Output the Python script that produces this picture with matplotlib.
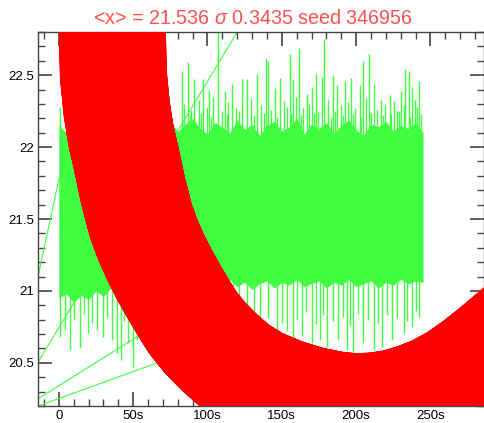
import numpy as np
import matplotlib
matplotlib.use("Agg")
import matplotlib.pyplot as plt
from matplotlib.path import Path
from matplotlib.patches import PathPatch
from matplotlib.ticker import MultipleLocator, FuncFormatter

plt.rcParams["font.family"] = ["Liberation Sans", "DejaVu Sans"]
plt.rcParams["mathtext.fontset"] = "custom"
plt.rcParams["mathtext.rm"] = "Liberation Sans"
plt.rcParams["mathtext.it"] = "Liberation Sans:italic"

GREEN = "#40ff40"

# dense noisy band (solid part), sampled every 5 s
band_t = np.arange(0, 250, 5)
band_hi = [22.15, 22.10, 22.18, 22.12, 22.20, 22.08, 22.16, 22.13, 22.19, 22.10,
           22.14, 22.17, 22.09, 22.15, 22.12, 22.18, 22.11, 22.16, 22.20, 22.13,
           22.09, 22.17, 22.14, 22.10, 22.19, 22.12, 22.16, 22.08, 22.15, 22.18,
           22.11, 22.14, 22.20, 22.09, 22.16, 22.13, 22.17, 22.10, 22.15, 22.19,
           22.12, 22.08, 22.16, 22.14, 22.18, 22.11, 22.15, 22.13, 22.17, 22.10]
band_lo = [20.95, 20.98, 20.92, 20.97, 20.94, 21.00, 20.96, 21.02, 20.98, 21.04,
           21.01, 21.06, 21.03, 21.07, 21.02, 21.05, 21.08, 21.04, 21.06, 21.03,
           21.07, 21.02, 21.05, 21.08, 21.03, 21.06, 21.01, 21.05, 21.07, 21.02,
           21.06, 21.04, 21.08, 21.03, 21.05, 21.07, 21.02, 21.06, 21.04, 21.08,
           21.03, 21.05, 21.07, 21.02, 21.06, 21.04, 21.08, 21.05, 21.07, 21.06]

# upward spikes (time, value)
up_t = [1.0, 82.6, 86.6, 91.1, 97.2, 101.0, 107.3, 111.8, 116.3, 123.0, 126.4,
        133.1, 139.4, 140.5, 145.5, 148.8, 155.6, 157.8, 161.6, 166.8, 170.2,
        172.9, 176.7, 178.2, 184.3, 187.0, 192.6, 196.6, 202.7, 204.9, 208.5,
        211.7, 216.6, 222.9, 230.0, 233.0, 235.7, 237.5, 242.6,
        84.5, 89.0, 94.0, 99.5, 104.0, 109.5, 114.0, 119.0, 129.5, 136.0,
        143.0, 151.5, 153.5, 159.5, 164.0, 168.5, 174.5, 181.0, 189.5, 194.5,
        199.5, 206.5, 214.0, 219.5, 225.5, 227.5, 232.0, 239.5, 241.0,
        88.0, 95.5, 102.5, 113.0, 121.0, 131.5, 138.0, 147.0, 156.5, 163.0,
        171.5, 183.0, 186.0, 191.0, 198.0, 203.5, 210.0, 218.0, 223.5, 229.0,
        236.5, 243.5]
up_v = [22.28, 22.53, 22.59, 22.47, 22.47, 22.40, 23.00, 22.39, 22.44, 22.47, 22.47,
        22.51, 22.62, 22.60, 22.41, 22.48, 22.65, 22.47, 22.69, 22.37, 22.42,
        22.51, 22.49, 22.75, 22.50, 22.43, 22.46, 22.48, 22.43, 22.60, 22.65,
        22.44, 22.33, 22.36, 22.39, 22.54, 22.53, 22.42, 22.46,
        22.30, 22.26, 22.33, 22.28, 22.35, 22.25, 22.31, 22.27, 22.34, 22.29,
        22.26, 22.32, 22.28, 22.35, 22.27, 22.30, 22.25, 22.33, 22.29, 22.31,
        22.27, 22.34, 22.26, 22.30, 22.32, 22.25, 22.29, 22.33, 22.28,
        22.22, 22.24, 22.21, 22.23, 22.25, 22.22, 22.24, 22.21, 22.23, 22.22,
        22.24, 22.21, 22.25, 22.22, 22.23, 22.21, 22.24, 22.22, 22.23, 22.25,
        22.21, 22.23]

# downward spikes (time, value)
dn_t = [1.1, 4.0, 7.4, 14.1, 19.7, 25.4, 29.8, 35.5, 38.9, 41.5, 46.7, 49.6, 52.7,
        117.4, 126.4, 135.4, 146.6, 153.8, 157.8, 163.4, 170.2, 175.8, 180.3,
        188.1, 193.7, 198.2, 204.9, 211.7, 217.3, 224.0, 231.9, 237.5, 242.0,
        10.5, 17.0, 22.5, 32.5, 44.0, 121.5, 131.0, 140.5, 150.0, 160.5, 166.5,
        173.0, 178.0, 184.5, 191.0, 196.0, 201.5, 208.0, 214.5, 220.5, 227.5,
        234.5, 240.0]
dn_v = [20.68, 20.73, 20.59, 20.60, 20.71, 20.73, 20.68, 20.66, 20.57, 20.52, 20.64,
        20.47, 20.66,
        20.99, 20.87, 20.78, 20.73, 20.72, 20.66, 20.69, 20.64, 20.66, 20.61,
        20.66, 20.59, 20.57, 20.64, 20.59, 20.61, 20.66, 20.71, 20.75, 20.82,
        20.80, 20.84, 20.78, 20.82, 20.79, 20.90, 20.84, 20.81, 20.78, 20.80, 20.85,
        20.77, 20.83, 20.79, 20.82, 20.76, 20.84, 20.80, 20.78, 20.83, 20.81,
        20.79, 20.86]

# stray segments joining off-range samples
stray = [((-20.0, 20.81), (0.5, 21.80)),
         ((-30.0, 20.23), (130.0, 22.97)),
         ((-30.0, 20.147), (52.5, 20.68)),
         ((-30.0, 20.14), (85.0, 20.57))]

# fitted curve
fit_t = [35.69, 36.03, 36.70, 39.06, 41.75, 45.12, 49.83, 55.22, 59.93, 65.32,
         70.71, 76.77, 83.50, 90.24, 98.32, 108.4, 119.9, 134.0, 151.5, 169.0,
         185.9, 199.3, 212.8, 226.3, 239.7, 253.2, 266.7, 280.1, 293.6, 311.1]
fit_v = [23.160, 22.799, 22.500, 22.257, 22.083, 21.931, 21.701, 21.486, 21.354,
         21.229, 21.118, 21.007, 20.889, 20.778, 20.674, 20.569, 20.465, 20.375,
         20.299, 20.243, 20.208, 20.194, 20.201, 20.222, 20.264, 20.319, 20.396,
         20.493, 20.604, 20.757]

fig = plt.figure(figsize=(4.85, 4.23), dpi=100)
ax = fig.add_axes([38 / 485, 17 / 423, 446 / 485, 374 / 423])

ax.fill_between(band_t, band_lo, band_hi, color=GREEN, lw=0, zorder=2)
ax.vlines(up_t, 21.5, up_v, color=GREEN, lw=1.0, zorder=2)
ax.vlines(dn_t, dn_v, 21.5, color=GREEN, lw=1.0, zorder=2)
for (t0, v0), (t1, v1) in stray:
    ax.plot([t0, t1], [v0, v1], color=GREEN, lw=0.8, zorder=2)

# thick fit line: path runs out and back so the fill has no area,
# which also keeps Agg from cutting the stroke at the canvas edge
pts = np.column_stack([fit_t, fit_v])
fit_path = Path(np.vstack([pts, pts[::-1]]))
ax.add_patch(PathPatch(fit_path, facecolor="red", edgecolor="red", lw=77,
                       joinstyle="round", capstyle="round", zorder=4))

ax.set_xlim(-14, 286)
ax.set_ylim(20.2, 22.8)

ax.xaxis.set_major_locator(MultipleLocator(50))
ax.xaxis.set_minor_locator(MultipleLocator(10))
ax.yaxis.set_major_locator(MultipleLocator(0.5))
ax.yaxis.set_minor_locator(MultipleLocator(0.1))
ax.xaxis.set_major_formatter(FuncFormatter(lambda v, _: "0" if v == 0 else f"{v:g}s"))
ax.yaxis.set_major_formatter(FuncFormatter(lambda v, _: f"{v:g}"))

ax.tick_params(which="both", direction="in", top=True, right=True,
               color="#444444", labelsize=9.5, pad=3)
ax.tick_params(which="major", length=10, width=1.2)
ax.tick_params(which="minor", length=5, width=1.0)
for s in ax.spines.values():
    s.set_color("#444444")
    s.set_linewidth(1.0)

ax.set_title(r"<x> = 21.536 $\sigma$ 0.3435 seed 346956", color="#ff5050",
             fontsize=14.2, pad=6, x=0.482)

fig.savefig("out.png", dpi=100)
